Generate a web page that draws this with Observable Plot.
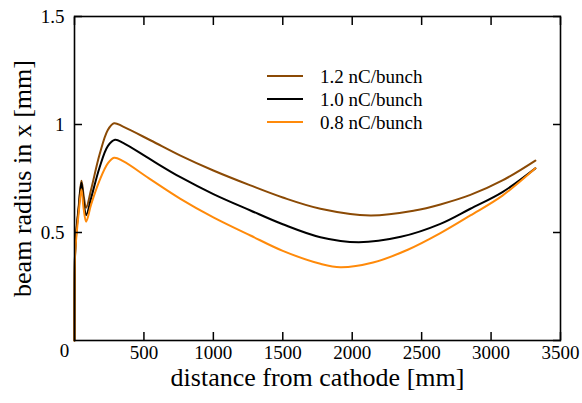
<!DOCTYPE html>
<html>
<head>
<meta charset="utf-8">
<script src="https://cdn.jsdelivr.net/npm/d3@7"></script>
<script src="https://cdn.jsdelivr.net/npm/@observablehq/plot@0.6"></script>
<style>
  html, body { margin: 0; padding: 0; background: #fff; }
  #chart svg { display: block; }
  #chart svg, #chart svg text { font-family: "Liberation Serif", "Times New Roman", serif !important; }
</style>
</head>
<body>
<div id="chart"></div>
<script>
// distance from cathode [mm] and beam radius in x [mm], per bunch charge
const x12 = [0, 4, 12, 30, 50, 66, 84, 120, 180, 240, 285, 350, 550, 763, 1000, 1267, 1500, 1771, 2131, 2450, 2635, 2851, 3082, 3319];
const r12 = [0, 0.40, 0.50, 0.62, 0.74, 0.67, 0.615, 0.70, 0.86, 0.975, 1.006, 0.99, 0.926, 0.856, 0.787, 0.718, 0.662, 0.610, 0.579, 0.602, 0.630, 0.674, 0.741, 0.833];
const x10 = [0, 4, 12, 30, 50, 66, 84, 120, 180, 240, 292, 350, 550, 763, 1000, 1267, 1500, 1771, 2047, 2350, 2635, 2851, 3082, 3319];
const r10 = [0, 0.40, 0.49, 0.61, 0.73, 0.64, 0.58, 0.66, 0.80, 0.90, 0.929, 0.915, 0.837, 0.756, 0.678, 0.602, 0.538, 0.478, 0.455, 0.48, 0.540, 0.61, 0.687, 0.797];
const x08 = [0, 4, 12, 30, 50, 66, 84, 120, 180, 240, 285, 350, 550, 763, 1000, 1267, 1500, 1771, 1915, 2150, 2400, 2635, 2851, 3082, 3319];
const r08 = [0, 0.39, 0.47, 0.59, 0.70, 0.61, 0.55, 0.63, 0.74, 0.82, 0.846, 0.83, 0.745, 0.656, 0.57, 0.486, 0.415, 0.355, 0.339, 0.361, 0.42, 0.497, 0.579, 0.671, 0.797];
const seriesNames = ["1.2 nC/bunch", "1.0 nC/bunch", "0.8 nC/bunch"];
const seriesColors = ["#8B4A05", "#000000", "#FF8A0A"];
const xTicks = [0, 500, 1000, 1500, 2000, 2500, 3000, 3500];
const yTicks = [0, 0.5, 1, 1.5];

const allX = [x12, x10, x08];
const allY = [r12, r10, r08];
const rows = [];
allY.forEach((ys, i) => ys.forEach((y, j) => rows.push({x: allX[i][j], y, s: seriesNames[i]})));

const font = "Liberation Serif, Times New Roman, serif";
const fmt = d => String(d);
const plot = Plot.plot({
  width: 582,
  height: 403,
  marginLeft: 74,
  marginRight: 22,
  marginTop: 16,
  marginBottom: 63,
  style: {fontFamily: font, fontSize: "19px", color: "#000", background: "#fff", overflow: "visible"},
  x: {domain: [0, 3500]},
  y: {domain: [0, 1.5]},
  color: {domain: seriesNames, range: seriesColors},
  marks: [
    Plot.line(rows, {x: "x", y: "y", z: "s", stroke: "s", strokeWidth: 2, curve: "catmull-rom"}),
    Plot.frame({stroke: "#000", strokeWidth: 1.6}),
    Plot.axisX({anchor: "bottom", ticks: xTicks.slice(1), tickSize: -8, tickPadding: 13, tickFormat: fmt, strokeWidth: 1.5, fontSize: 19, fontFamily: font, label: null}),
    Plot.axisX({anchor: "top", ticks: xTicks, tickSize: -8, tickFormat: () => "", strokeWidth: 1.5, label: null}),
    Plot.axisY({anchor: "left", ticks: yTicks.slice(1), tickSize: -8, tickPadding: 18, tickFormat: fmt, strokeWidth: 1.5, fontSize: 19, fontFamily: font, label: null}),
    Plot.axisY({anchor: "right", ticks: yTicks, tickSize: -8, tickFormat: () => "", strokeWidth: 1.5, label: null}),
    Plot.text([0], {x: 0, y: 0, text: () => "0", dx: -10, dy: 10, fontSize: 19, fontFamily: font}),
    Plot.text(["distance from cathode [mm]"], {frameAnchor: "bottom", dy: 45, fontSize: 26, fontFamily: font, text: d => d}),
    Plot.text(["beam radius in x [mm]"], {frameAnchor: "left", dx: -52, rotate: -90, textAnchor: "middle", fontSize: 26, fontFamily: font, text: d => d}),
  ]
});
document.getElementById("chart").appendChild(plot);

// legend drawn inside the svg through the color scale
const svg = d3.select(plot);
const lg = svg.append("g").attr("font-family", font).attr("font-size", 19).attr("text-anchor", "start");
const color = plot.scale("color");
seriesNames.forEach((name, i) => {
  const y = 76 + i * 23;
  lg.append("line").attr("x1", 267).attr("x2", 303).attr("y1", y).attr("y2", y)
    .attr("stroke", color.apply(name)).attr("stroke-width", 2);
  lg.append("text").attr("x", 320).attr("y", y).attr("dy", "0.35em").text(name);
});
</script>
</body>
</html>
